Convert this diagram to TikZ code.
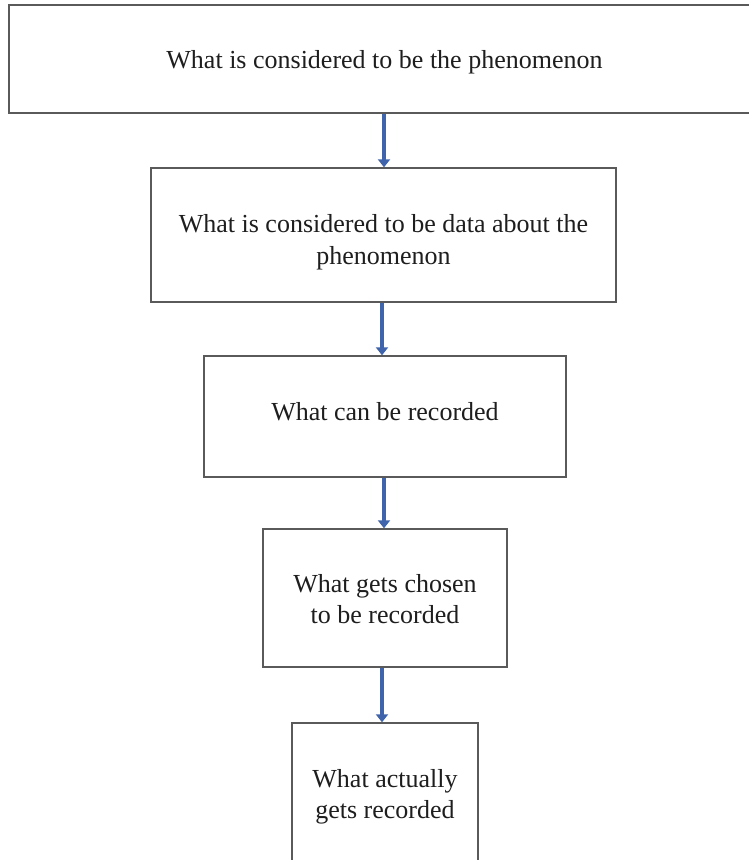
\documentclass[tikz,border=0pt]{standalone}
\usepackage{fontspec}
\setmainfont{Liberation Serif}
\usetikzlibrary{arrows.meta}
\definecolor{boxline}{HTML}{5A5A5A}
\definecolor{flowblue}{HTML}{3F64AC}
\definecolor{txt}{HTML}{1E1E1E}
\begin{document}
\begin{tikzpicture}[x=1pt,y=-1pt,
  stage/.style={draw=boxline, line width=1.4pt, fill=white, inner sep=0pt},
  caption/.style={align=center, text=txt, inner sep=0pt,
    font=\fontsize{26}{31.5}\selectfont},
  flow/.style={draw=flowblue, line width=3.6pt,
    -{Triangle[width=12pt,length=8pt]}}]
\useasboundingbox (0,0) rectangle (749,860);
\fill[white] (0,0) rectangle (749,860);

% stages, widest at the top
\node[stage, minimum width=751pt, minimum height=108pt] (s1) at (384.5,59) {};
\node[stage, minimum width=465pt, minimum height=134pt] (s2) at (383.5,235) {};
\node[stage, minimum width=362pt, minimum height=121pt] (s3) at (385,416.5) {};
\node[stage, minimum width=244pt, minimum height=138pt] (s4) at (385,598) {};
\node[stage, minimum width=186pt, minimum height=140pt] (s5) at (385,793) {};

% stage texts
\node[caption] (t1) at ([yshift=-3pt]s1.center)
  {What is considered to be the phenomenon};
\node[caption] (t2) at ([yshift=-7pt]s2.center)
  {What is considered to be data about the\\phenomenon};
\node[caption] (t3) at ([yshift=5pt]s3.center)
  {What can be recorded};
\node[caption] (t4) at ([yshift=-1pt]s4.center)
  {What gets chosen\\to be recorded};
\node[caption] (t5) at ([yshift=-4pt]s5.center)
  {What actually\\gets recorded};

% connectors
\draw[flow] ([xshift=-0.5pt]s1.south) -- ([xshift=-0.5pt]s1.south |- s2.north);
\draw[flow] ([xshift=-1.5pt]s2.south) -- ([xshift=-1.5pt]s2.south |- s3.north);
\draw[flow] ([xshift=-1pt]s3.south) -- ([xshift=-1pt]s3.south |- s4.north);
\draw[flow] ([xshift=-3pt]s4.south) -- ([xshift=-3pt]s4.south |- s5.north);
\end{tikzpicture}
\end{document}
